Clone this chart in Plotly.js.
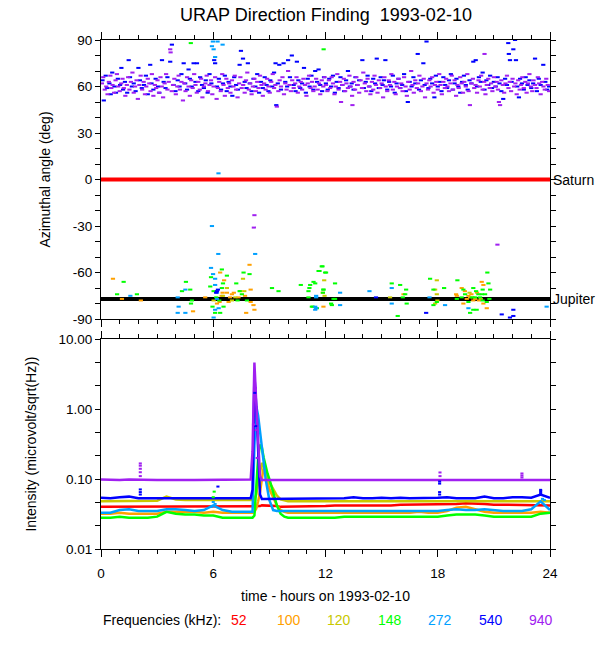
<!DOCTYPE html>
<html>
<head>
<meta charset="utf-8">
<script src="https://cdn.plot.ly/plotly-3.0.1.min.js"></script>
<style>html,body{margin:0;padding:0;background:#fff;}#chart{width:600px;height:650px;}</style>
</head>
<body>
<div id="chart"></div>
<script>
// ---------- series meta ----------
const freqLabels = ['52','100','120','148','272','540','940'];
const freqColors = ['#ff0000','#ffa000','#c8c800','#00ff00','#00a0ff','#0000ff','#a020f0'];

// ---------- top panel: reference directions ----------
const dayRange = [0, 24];
const saturnAz = 0;
const jupiterAz = -77;

// ---------- top panel: direction-finding points (hours, degrees) ----------
const df100H = [0.64,1.12,2.13,5.57,4.92,6.37,6.58,6.5,7.0,6.73,7.35,7.94,8.0,7.7,8.0,8.15,8.2,7.76,6.34,6.2,6.82,6.45,6.9,7.1,11.86,11.89,16.17,18.98,19.28,20.35,20.44,19.64,19.55,19.73,19.37,20.62,20.44,19.9,20.0,19.02,19.8,20.1,20.2,19.45];
const df100A = [-64,-77,-78,-76,-85,-60,-65,-73,-74,-73,-76,-55,-71,-75,-79,-81,-84,-86,-79,-80,-79,-75,-76,-73,-73,-82,-74,-74,-70,-66,-68,-75,-77,-76,-80,-83,-80,-78,-77,-75,-74,-73,-78,-72];

const df120H = [7.59,7.45,7.18,7.66,6.73,6.02,6.52,7.0,11.93,11.95,15.45,17.95,17.86,17.95,17.98,17.86,19.9,20.3,19.7];
const df120A = [-64,-72,-76,-72,-70,-78,-75,-78,-65,-75,-76,-65,-71,-74,-78,-80,-76,-77,-73];

const df148H = [4.8,11.9,0.86,1.21,1.92,4.54,4.33,4.77,4.86,4.81,5.88,5.84,6.02,6.16,5.96,6.1,6.37,6.46,6.73,6.52,6.46,6.32,6.55,7.23,7.41,7.53,7.62,7.94,7.8,7.3,9.14,9.49,10.68,11.09,11.14,11.36,11.63,11.8,11.98,11.89,11.86,11.27,11.54,12.3,12.51,12.51,11.84,11.68,12.03,11.18,11.45,11.89,11.09,12.43,12.34,11.32,15.54,15.99,16.31,16.26,16.13,16.34,15.86,17.59,17.77,17.77,17.95,18.34,19.05,19.37,19.46,19.64,19.73,19.9,20.05,20.17,20.26,20.4,20.53,20.65,20.71,20.62,20.4,19.9,20.08,19.02,19.82,20.0,19.28,20.35,20.8,20.76];
const df148A = [88,84,-74,-66,-74,-66,-72,-71,-78,-80,-63,-69,-72,-76,-82,-86,-86,-58,-62,-67,-70,-78,-82,-67,-72,-74,-60,-61,-78,-78,-70,-72,-68,-76,-70,-66,-59,-56,-60,-71,-73,-82,-83,-80,-77,-67,-56,-59,-60,-68,-67,-71,-72,-77,-81,-82,-67,-68,-71,-74,-76,-80,-88,-64,-71,-81,-79,-70,-65,-71,-74,-79,-86,-70,-72,-74,-76,-71,-74,-60,-67,-79,-78,-84,-84,-77,-76,-76,-76,-74,-71,-77];

const df272H = [5.93,6.02,6.1,6.23,6.5,5.98,6.28,1.57,4.1,4.15,4.1,4.51,4.51,5.93,6.27,5.88,5.99,6.1,6.1,6.2,6.2,6.1,6.29,6.02,8.24,11.5,11.45,11.5,11.45,11.5,12.78,12.78,14.35,15.54,15.54,17.56,18.39,19.64,23.82];
const df272A = [86,84,79,89,87,89,4,-75,-76,-82,-86,-71,-86,-30,-48,-57,-61,-64,-68,-73,-77,-84,-83,-89,-48,-75,-84,-76,-82,-83,-73,-81,-72,-70,-80,-76,-81,-83,-82];

const df540H = [0.08,0.15,0.25,0.33,0.45,0.52,0.6,0.72,0.8,0.9,1.02,1.09,1.18,1.28,1.4,1.48,1.55,1.65,1.75,1.85,2.0,2.08,2.18,2.3,2.4,2.5,2.63,2.7,2.8,2.92,3.05,3.12,3.26,3.35,3.45,3.55,3.7,3.79,3.88,3.98,4.1,4.2,4.3,4.42,4.5,4.6,4.68,4.75,4.85,4.95,5.05,5.13,5.2,5.3,5.4,5.5,5.6,5.7,5.8,5.9,6.05,6.1,6.2,6.3,6.42,6.52,6.62,6.72,6.82,6.92,7.02,7.12,7.22,7.32,7.41,7.48,7.59,7.68,7.78,7.85,7.95,8.05,8.15,8.25,8.35,8.45,8.55,8.65,8.75,8.85,8.95,9.05,9.15,9.25,9.33,9.37,9.45,9.53,9.62,9.76,9.85,9.95,10.0,10.1,10.2,10.3,10.4,10.47,10.55,10.65,10.75,10.85,10.95,11.05,11.15,11.25,11.35,11.45,11.55,11.63,11.72,11.82,11.92,
12.02,12.12,12.2,12.3,12.4,12.5,12.6,12.7,12.8,12.9,13.0,13.1,13.2,13.3,13.4,13.5,13.6,13.7,13.8,13.97,14.05,14.15,14.25,14.35,14.45,14.55,14.65,14.74,14.85,14.95,15.05,15.12,15.2,15.3,15.4,15.5,15.6,15.7,15.8,15.9,16.0,16.1,16.2,16.3,16.4,16.5,16.6,16.7,16.8,16.93,17.0,17.1,17.23,17.3,17.4,17.5,17.6,17.7,17.82,17.9,18.0,18.1,18.2,18.3,18.4,18.5,18.6,18.7,18.8,18.9,19.0,19.1,19.2,19.3,19.4,19.5,19.6,19.7,19.8,19.9,20.03,20.1,20.2,20.3,20.4,20.5,20.6,20.7,20.8,20.9,21.0,21.1,21.2,21.3,21.4,21.5,21.6,21.7,21.77,21.8,21.86,21.95,22.04,22.13,22.18,22.25,22.34,22.4,22.5,22.6,22.7,22.8,22.9,23.0,23.1,23.2,23.3,23.4,23.5,23.64,23.75,23.85,23.95,
6.2,6.15,6.25,17.38,21.42,22.04,21.86,22.04,14.7];
const df540A = [64,51,67,59,62,55,69,60,56,65,61,72,58,63,56,77,66,60,62,57,72,64,59,61,67,55,74,62,58,65,60,56,77,63,59,66,76,87,61,57,64,60,68,75,62,58,71,65,60,75,63,75,57,66,61,59,64,56,68,62,77,75,60,65,58,62,67,57,63,60,54,66,61,58,74,83,78,63,59,75,62,57,65,60,68,56,63,59,66,61,57,64,60,69,75,48,62,74,58,75,63,60,77,66,80,61,57,76,64,59,62,72,56,65,60,67,58,70,63,71,61,57,66,
62,58,65,60,67,56,63,59,66,61,57,64,70,60,62,58,66,61,64,77,59,63,67,60,57,65,62,78,59,66,61,64,77,58,63,60,67,56,62,65,59,61,68,57,50,63,60,66,62,81,58,64,75,61,89,59,65,62,53,67,60,63,57,66,61,59,64,68,58,62,65,60,56,63,67,61,58,64,62,76,77,60,66,63,69,58,64,61,67,59,63,60,66,62,57,52,65,61,88,81,77,63,84,90,77,60,53,65,62,58,66,61,64,59,62,78,57,65,61,74,63,58,60,
-72,-73,-71,-86,-87,-84,-89,-88,-76];

const df940H = [0.05,0.12,0.2,0.28,0.35,0.42,0.5,0.55,0.62,0.7,0.78,0.85,0.92,1.0,1.08,1.15,1.22,1.3,1.38,1.45,1.52,1.6,1.68,1.75,1.82,1.9,1.97,2.05,2.12,2.2,2.28,2.35,2.42,2.5,2.58,2.65,2.72,2.8,2.88,2.95,3.02,3.1,3.18,3.25,3.32,3.4,3.48,3.55,3.62,3.7,3.72,3.78,3.85,3.92,4.0,4.08,4.15,4.22,4.3,4.38,4.45,4.52,4.6,4.68,4.75,4.82,4.9,4.98,5.05,5.12,5.2,5.28,5.35,5.42,5.5,5.58,5.65,5.72,5.8,5.88,5.95,6.02,6.1,6.18,6.25,6.32,6.4,6.48,6.55,6.62,6.7,6.78,6.85,6.92,7.0,7.08,7.15,7.22,7.3,7.38,7.45,7.52,7.6,7.68,7.75,7.82,7.9,7.98,8.05,8.12,8.2,8.28,8.35,8.42,8.5,8.58,8.65,8.72,8.8,8.88,8.95,9.02,9.1,9.18,9.25,9.32,9.4,9.48,9.55,9.62,9.7,9.78,9.85,9.92,10.0,10.08,10.15,10.22,10.3,10.38,10.45,10.52,10.6,10.68,10.75,10.82,10.9,10.98,11.05,11.12,11.2,11.28,11.35,11.42,11.5,11.58,11.65,11.72,11.8,11.88,11.95,
12.03,12.1,12.18,12.25,12.33,12.4,12.48,12.55,12.63,12.7,12.78,12.83,12.9,12.98,13.05,13.12,13.2,13.28,13.35,13.42,13.44,13.5,13.58,13.65,13.72,13.8,13.88,13.95,14.02,14.1,14.18,14.25,14.32,14.4,14.48,14.55,14.62,14.7,14.78,14.85,14.92,15.0,15.08,15.15,15.22,15.3,15.38,15.45,15.52,15.6,15.68,15.75,15.82,15.9,15.98,16.05,16.12,16.2,16.28,16.35,16.42,16.5,16.58,16.65,16.72,16.8,16.88,16.95,17.02,17.1,17.18,17.25,17.32,17.4,17.48,17.55,17.62,17.7,17.78,17.85,17.92,18.0,18.08,18.15,18.22,18.3,18.38,18.45,18.52,18.6,18.68,18.75,18.82,18.9,18.98,19.05,19.12,19.2,19.28,19.35,19.42,19.5,19.58,19.65,19.72,19.8,19.88,19.95,20.02,20.1,20.18,20.25,20.32,20.4,20.48,20.5,20.55,20.62,20.7,20.78,20.85,20.92,21.0,21.08,21.15,21.22,21.27,21.33,21.4,21.48,21.55,21.62,21.7,21.78,21.85,21.92,22.0,22.08,22.15,22.22,22.3,22.38,22.45,22.52,22.6,22.68,22.75,22.82,22.9,22.98,23.05,23.12,23.2,23.28,23.35,23.42,23.5,23.58,23.65,23.72,23.8,23.88,23.95,
8.2,8.17,21.19];
const df940A = [62,66,58,60,55,63,67,59,61,56,64,68,60,57,62,65,59,54,61,66,58,63,69,56,60,64,52,61,67,58,63,55,60,65,62,57,68,54,61,59,64,56,66,60,53,62,68,58,63,84,82,57,61,65,55,60,67,58,63,51,62,57,66,60,54,64,59,68,61,56,63,58,65,53,60,62,67,57,61,64,55,60,66,52,59,63,57,68,61,54,65,59,62,56,64,60,67,58,53,62,66,59,61,56,64,69,58,62,55,60,65,57,63,59,67,61,54,62,58,65,60,56,63,68,59,61,47,57,64,60,66,55,62,58,70,61,57,64,59,62,66,56,60,63,58,65,61,54,62,67,59,63,57,60,65,58,62,55,64,60,66,
61,57,64,59,66,62,55,60,68,58,63,50,61,65,57,62,59,67,60,54,48,63,58,66,61,56,64,59,69,62,57,65,60,55,63,58,67,61,56,64,59,62,53,66,60,57,64,61,68,58,63,55,60,65,59,62,57,66,60,54,63,58,70,61,56,64,59,62,67,57,60,65,53,62,58,64,60,66,56,61,63,58,68,61,55,63,59,65,60,57,62,67,58,64,54,61,59,66,62,56,63,60,68,57,48,62,65,59,61,56,64,60,67,58,63,81,55,61,65,59,62,57,66,60,63,58,50,48,64,61,56,62,67,59,63,57,65,60,62,55,64,58,61,66,59,63,56,62,68,60,57,64,61,59,66,62,55,63,60,58,65,61,57,
-23,-31,-42];

// ---------- bottom panel: intensity time series ----------
const hours = [0,0.5,1,1.5,2,2.5,3,3.5,4,4.5,5,5.5,6,6.5,7,7.5,8,8.1,8.2,8.3,8.4,8.5,8.6,8.7,8.8,8.9,9,9.2,9.4,9.6,9.8,10,10.5,11,11.5,12,12.5,13,13.5,14,14.5,15,15.5,16,16.5,17,17.5,18,18.5,19,19.5,20,20.5,21,21.5,22,22.5,23,23.5,24];
const int52  = [0.040,0.040,0.040,0.041,0.040,0.040,0.040,0.041,0.040,0.040,0.040,0.040,0.040,0.040,0.040,0.040,0.040,0.040,0.040,0.041,0.041,0.041,0.042,0.042,0.041,0.041,0.041,0.041,0.041,0.040,0.040,0.040,0.041,0.041,0.041,0.041,0.042,0.042,0.042,0.041,0.041,0.041,0.042,0.043,0.043,0.043,0.043,0.043,0.044,0.044,0.045,0.045,0.044,0.043,0.043,0.042,0.042,0.042,0.042,0.042];
const int100 = [0.032,0.032,0.033,0.032,0.032,0.032,0.032,0.034,0.034,0.034,0.034,0.033,0.034,0.033,0.033,0.033,0.033,0.033,0.034,0.038,0.048,0.065,0.10,0.15,0.12,0.09,0.072,0.055,0.042,0.036,0.034,0.033,0.033,0.033,0.033,0.033,0.033,0.033,0.033,0.033,0.033,0.033,0.033,0.033,0.033,0.034,0.033,0.033,0.035,0.039,0.040,0.037,0.034,0.033,0.033,0.033,0.033,0.033,0.034,0.033];
const int120 = [0.048,0.048,0.048,0.048,0.048,0.048,0.049,0.056,0.051,0.050,0.050,0.049,0.049,0.049,0.049,0.050,0.050,0.050,0.052,0.060,0.090,0.13,0.17,0.15,0.13,0.11,0.09,0.072,0.058,0.051,0.049,0.048,0.048,0.048,0.048,0.048,0.048,0.048,0.048,0.048,0.048,0.048,0.048,0.048,0.048,0.048,0.048,0.048,0.048,0.048,0.048,0.048,0.048,0.048,0.048,0.048,0.048,0.048,0.048,0.048];
const int148 = [0.028,0.028,0.029,0.028,0.028,0.028,0.029,0.034,0.032,0.031,0.031,0.030,0.030,0.028,0.028,0.028,0.028,0.028,0.030,0.080,0.20,0.31,0.28,0.20,0.15,0.12,0.10,0.065,0.042,0.032,0.029,0.028,0.028,0.028,0.028,0.028,0.028,0.029,0.029,0.029,0.029,0.029,0.029,0.029,0.029,0.029,0.029,0.029,0.030,0.031,0.031,0.031,0.030,0.029,0.029,0.029,0.029,0.029,0.032,0.033];
const int272 = [0.033,0.033,0.036,0.037,0.035,0.035,0.035,0.037,0.037,0.036,0.035,0.036,0.042,0.036,0.034,0.034,0.034,0.034,0.30,1.10,0.80,0.50,0.30,0.17,0.10,0.07,0.050,0.036,0.035,0.035,0.035,0.035,0.035,0.035,0.035,0.035,0.035,0.035,0.035,0.035,0.035,0.035,0.035,0.035,0.035,0.035,0.035,0.035,0.036,0.037,0.036,0.036,0.037,0.036,0.035,0.035,0.035,0.037,0.048,0.036];
const int540 = [0.054,0.053,0.055,0.056,0.053,0.053,0.053,0.053,0.053,0.053,0.052,0.053,0.053,0.053,0.053,0.053,0.053,0.070,3.0,1.1,0.30,0.060,0.052,0.052,0.052,0.052,0.052,0.052,0.052,0.052,0.052,0.052,0.053,0.053,0.052,0.053,0.053,0.053,0.055,0.053,0.053,0.054,0.053,0.054,0.053,0.053,0.053,0.054,0.055,0.053,0.053,0.053,0.056,0.053,0.053,0.055,0.055,0.054,0.060,0.054];
const int940 = [0.098,0.097,0.097,0.098,0.097,0.097,0.097,0.097,0.098,0.097,0.097,0.097,0.097,0.097,0.097,0.097,0.098,0.25,4.6,1.2,0.30,0.11,0.097,0.097,0.097,0.097,0.097,0.097,0.097,0.097,0.097,0.097,0.097,0.097,0.097,0.097,0.097,0.097,0.097,0.097,0.097,0.097,0.097,0.097,0.097,0.097,0.097,0.097,0.097,0.097,0.097,0.097,0.097,0.097,0.097,0.097,0.097,0.097,0.097,0.097];

// short bursts drawn as separate samples
const burst940H = [2.1,2.1,2.1,2.1,2.1,18.12,18.12,22.5,22.5,22.5,8.15,8.25,8.3,8.35];
const burst940V = [0.11,0.125,0.14,0.155,0.167,0.11,0.124,0.105,0.112,0.12,0.6,2.0,0.5,0.2];
const burst540H = [2.1,2.1,2.1,6.25,18.1,18.1,18.1,18.1,23.5,23.5,23.5,8.22,8.27];
const burst540V = [0.06,0.065,0.071,0.078,0.06,0.065,0.086,0.092,0.063,0.067,0.07,1.7,0.57];
const burst272H = [6.0,6.1,5.9,23.6,23.7];
const burst272V = [0.047,0.044,0.040,0.052,0.050];
const burst148H = [6.05,6.0];
const burst148V = [0.066,0.055];

// ---------- build traces ----------
const fc = i => freqColors[i];
const traces = [];
traces.push({x: dayRange, y: [saturnAz, saturnAz], xaxis:'x', yaxis:'y', mode:'lines', line:{color:'#ff0000', width:4}, hoverinfo:'skip'});
traces.push({x: dayRange, y: [jupiterAz, jupiterAz], xaxis:'x', yaxis:'y', mode:'lines', line:{color:'#000000', width:4}, hoverinfo:'skip'});
const dfSets = [[1, df100H, df100A],[2, df120H, df120A],[3, df148H, df148A],[4, df272H, df272A],[5, df540H, df540A],[6, df940H, df940A]];
dfSets.forEach(([i, h, a]) => {
  traces.push({x: h, y: a, xaxis:'x', yaxis:'y', mode:'markers',
    marker:{symbol:'line-ew', size:3, color: fc(i), line:{color: fc(i), width:2}}, hoverinfo:'skip'});
});
const intSets = [int52, int100, int120, int148, int272, int540, int940];
intSets.forEach((v, i) => {
  traces.push({x: hours, y: v, xaxis:'x2', yaxis:'y2', mode:'lines', line:{color: fc(i), width:2.5}, hoverinfo:'skip'});
});
const burstSets = [[3, burst148H, burst148V],[4, burst272H, burst272V],[5, burst540H, burst540V],[6, burst940H, burst940V]];
burstSets.forEach(([i, h, v]) => {
  traces.push({x: h, y: v, xaxis:'x2', yaxis:'y2', mode:'markers',
    marker:{symbol:'line-ew', size:2.2, color: fc(i), line:{color: fc(i), width:2}}, hoverinfo:'skip'});
});

// ---------- axes ----------
const font = 'Liberation Sans, Arial, Helvetica, sans-serif';
const angleTicks = []; const angleText = [];
for (let a = -90; a <= 90; a += 10) { angleTicks.push(a); angleText.push(a % 30 === 0 ? String(a) : ''); }
const intTicks = []; const intText = [];
const decadeText = {'-2':'0.01','-1':'0.10','0':'1.00','1':'10.00'};
for (let k = -6; k <= 3; k++) { intTicks.push(Math.pow(10, k/3)); intText.push(k % 3 === 0 ? decadeText[String(k/3)] : ''); }

const common = {showline:true, linecolor:'black', linewidth:1, mirror:'allticks', ticks:'outside', tickcolor:'black',
  showgrid:false, zeroline:false, tickfont:{family:font, size:13.5, color:'black'}};

const xTop = 39.5, xBot = 549.3, H = 650, W = 600, L = 100.7, R = 550;
const plotH = xBot - xTop;

const layout = {
  width: W, height: H, paper_bgcolor:'white', plot_bgcolor:'white', showlegend:false,
  margin:{l:L, r:W - R, t:xTop, b:H - xBot, pad:0},
  title:{text:'URAP Direction Finding\u00a0\u00a01993-02-10', font:{family:font, size:18, color:'black'},
    x: 326/W, xanchor:'center', xref:'container', y: 1 - 15/H, yanchor:'middle', yref:'container'},
  xaxis: Object.assign({}, common, {anchor:'y', domain:[0,1], range:[0,24], tick0:0, dtick:6, ticklen:7, showticklabels:false,
    minor:{dtick:1, tick0:0, ticks:'outside', ticklen:4, tickcolor:'black', showgrid:false}}),
  yaxis: Object.assign({}, common, {anchor:'x', domain:[(xBot - 319)/plotH, 1], range:[-90, 90], tickmode:'array',
    tickvals: angleTicks, ticktext: angleText, ticklen:5,
    title:{text:'Azimuthal angle (deg)', font:{family:font, size:14, color:'black'}, standoff:18}}),
  xaxis2: Object.assign({}, common, {anchor:'y2', domain:[0,1], range:[0,24], tick0:0, dtick:6, ticklen:7, ticklabelstandoff:5,
    minor:{dtick:1, tick0:0, ticks:'outside', ticklen:4, tickcolor:'black', showgrid:false},
    title:{text:'time - hours on 1993-02-10', font:{family:font, size:14, color:'black'}, standoff:10}}),
  yaxis2: Object.assign({}, common, {anchor:'x2', domain:[0, (xBot - 339)/plotH], type:'log', range:[-2, 1], tickmode:'array',
    tickvals: intTicks, ticktext: intText, ticklen:5,
    title:{text:'Intensity (microvolt/sqrt(Hz))', font:{family:font, size:14, color:'black'}, standoff:18}}),
  annotations: []
};

layout.annotations.push({xref:'paper', yref:'y', x:1, y:saturnAz, xanchor:'left', yanchor:'middle', xshift:1, showarrow:false,
  text:'Saturn', font:{family:font, size:14, color:'black'}});
layout.annotations.push({xref:'paper', yref:'y', x:1, y:jupiterAz, xanchor:'left', yanchor:'middle', xshift:1, showarrow:false,
  text:'Jupiter', font:{family:font, size:14, color:'black'}});

const keyY = (xBot - 620) / plotH;
const pxToPaper = px => (px - L) / (R - L);
layout.annotations.push({xref:'paper', yref:'paper', x:pxToPaper(101), y:keyY, xanchor:'left', yanchor:'middle', showarrow:false,
  text:'Frequencies (kHz):', font:{family:font, size:14, color:'black'}});
freqLabels.forEach((lab, i) => {
  layout.annotations.push({xref:'paper', yref:'paper', x:pxToPaper(238.5 + i*50.4), y:keyY, xanchor:'center', yanchor:'middle', showarrow:false,
    text: lab, font:{family:font, size:14, color: freqColors[i]}});
});

Plotly.newPlot('chart', traces, layout, {staticPlot:true, displayModeBar:false});
</script>
</body>
</html>
